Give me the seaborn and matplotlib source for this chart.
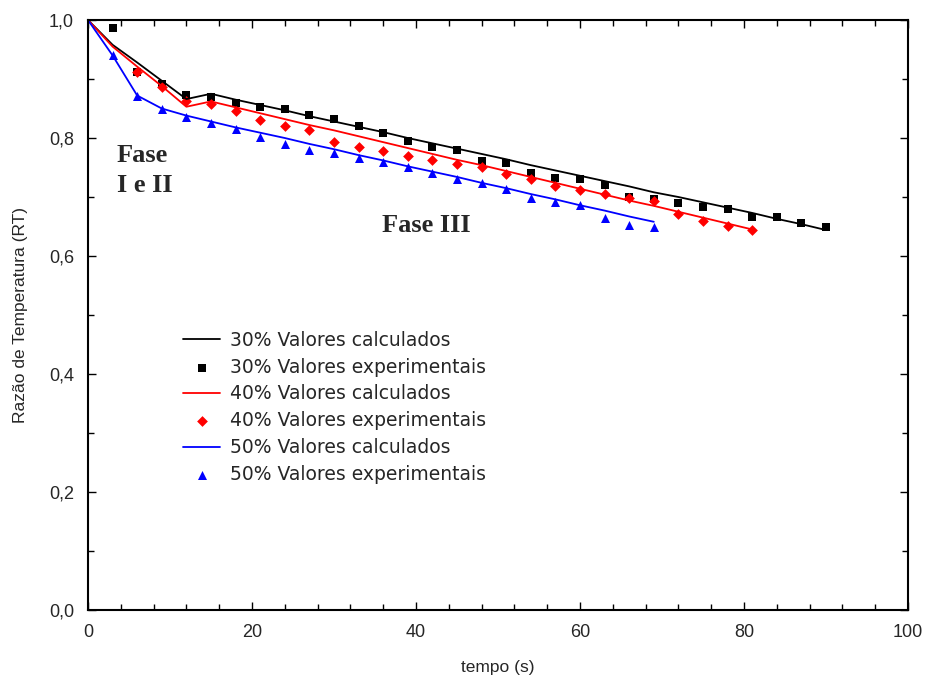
import pandas as pd
import seaborn as sns
import matplotlib
matplotlib.use("Agg")
from matplotlib import pyplot as plt
from matplotlib.ticker import MultipleLocator, FuncFormatter

# calculated curves (every 3 s)
t30_calc = list(range(0, 91, 3))
rt30_calc = [1.000, 0.958, 0.928, 0.897, 0.866, 0.875, 0.865, 0.856, 0.847, 0.837, 0.828,
             0.819, 0.810, 0.800, 0.791, 0.782, 0.773, 0.764, 0.754, 0.745, 0.736, 0.727,
             0.718, 0.708, 0.700, 0.691, 0.682, 0.673, 0.663, 0.654, 0.644]
t40_calc = list(range(0, 82, 3))
rt40_calc = [1.000, 0.955, 0.921, 0.888, 0.853, 0.862, 0.852, 0.842, 0.832, 0.822, 0.813,
             0.803, 0.793, 0.783, 0.773, 0.763, 0.754, 0.744, 0.734, 0.724, 0.714, 0.704,
             0.694, 0.685, 0.675, 0.665, 0.655, 0.645]
t50_calc = list(range(0, 70, 3))
rt50_calc = [1.000, 0.940, 0.872, 0.850, 0.838, 0.828, 0.818, 0.809, 0.800, 0.790, 0.781,
             0.771, 0.762, 0.752, 0.743, 0.734, 0.724, 0.715, 0.705, 0.696, 0.686, 0.677,
             0.667, 0.658]

# experimental points
t30_exp = list(range(3, 91, 3))
rt30_exp = [0.987, 0.912, 0.891, 0.873, 0.869, 0.860, 0.853, 0.849, 0.839, 0.832, 0.821,
            0.809, 0.795, 0.785, 0.780, 0.761, 0.758, 0.740, 0.733, 0.730, 0.720, 0.700,
            0.696, 0.689, 0.683, 0.679, 0.666, 0.666, 0.656, 0.649]
t40_exp = list(range(6, 82, 3))
rt40_exp = [0.912, 0.886, 0.862, 0.858, 0.845, 0.831, 0.820, 0.814, 0.794, 0.785, 0.778,
            0.770, 0.762, 0.756, 0.751, 0.739, 0.730, 0.719, 0.712, 0.705, 0.699, 0.693,
            0.672, 0.660, 0.651, 0.644]
t50_exp = list(range(3, 70, 3))
rt50_exp = [0.941, 0.871, 0.850, 0.836, 0.826, 0.816, 0.801, 0.790, 0.780, 0.775, 0.766,
            0.760, 0.751, 0.741, 0.730, 0.724, 0.713, 0.698, 0.692, 0.686, 0.664, 0.653,
            0.650]

sns.set_style("white")
plt.rcParams['font.family'] = ['Liberation Sans', 'DejaVu Sans']

fig = plt.figure(figsize=(9.29, 6.81), dpi=100)
ax = fig.add_axes([0.0947, 0.1043, 0.8827, 0.8663])

series = [
    ("30%", "black", "s", 38, t30_calc, rt30_calc, t30_exp, rt30_exp),
    ("40%", "red", "D", 30, t40_calc, rt40_calc, t40_exp, rt40_exp),
    ("50%", "blue", "^", 42, t50_calc, rt50_calc, t50_exp, rt50_exp),
]

for lab, col, mk, sz, tc, rc, te, re_ in series:
    sns.lineplot(x=tc, y=rc, ax=ax, color=col, linewidth=1.3,
                 label=lab + " Valores calculados")
    sns.scatterplot(x=te, y=re_, ax=ax, color=col, marker=mk, s=sz, linewidth=0,
                    label=lab + " Valores experimentais")

ax.set_xlim(0, 100)
ax.set_ylim(0, 1.0)
ax.xaxis.set_major_locator(MultipleLocator(20))
ax.xaxis.set_minor_locator(MultipleLocator(4))
ax.yaxis.set_major_locator(MultipleLocator(0.2))
ax.yaxis.set_minor_locator(MultipleLocator(0.1))
ax.yaxis.set_major_formatter(FuncFormatter(lambda v, p: f"{v:.1f}".replace(".", ",")))
ax.tick_params(which="both", direction="in", bottom=True, left=True, top=True, right=True,
               width=1, color="black", labelsize=13, pad=10)
ax.tick_params(which="major", length=6)
ax.tick_params(which="minor", length=4)
for s in ax.spines.values():
    s.set_color("black")
    s.set_linewidth(1.5)

ax.set_xlabel("tempo (s)", fontsize=12.5, labelpad=14)
ax.set_ylabel("Razão de Temperatura (RT)", fontsize=12.5, labelpad=15)

ax.text(3.5, 0.79, "Fase\nI e II", family="Liberation Serif", fontweight="bold",
        fontsize=19, va="top", ha="left", linespacing=1.4)
ax.text(35.9, 0.652, "Fase III", family="Liberation Serif", fontweight="bold",
        fontsize=19, va="center", ha="left")

leg = ax.legend(loc="upper left", bbox_to_anchor=(0.095, 0.502), frameon=False,
                prop={"family": "DejaVu Sans", "size": 13.5},
                handlelength=2.0, labelspacing=0.42, handletextpad=0.5)

plt.savefig("out.png", dpi=100)
